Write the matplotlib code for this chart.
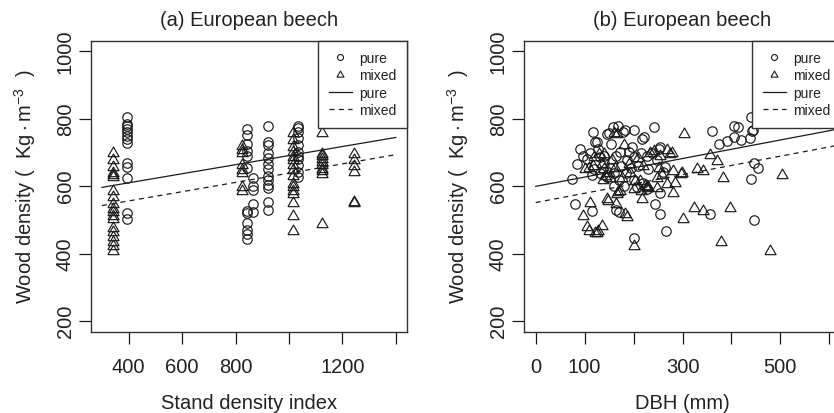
import matplotlib
matplotlib.use("Agg")
import matplotlib.pyplot as plt
from matplotlib.lines import Line2D
from matplotlib.path import Path

plt.rcParams.update({"font.family": "Liberation Sans", "font.size": 14.5,
                     "mathtext.fontset": "custom", "mathtext.rm": "Liberation Sans",
                     "mathtext.it": "Liberation Sans:italic"})

# ---- panel (a): stand density index ----
sdi_pure_x = [392] * 13 + [842] * 12 + [866] * 5 + [923] * 13 + [1035] * 11
sdi_pure_y = [806, 785, 778, 770, 760, 750, 740, 730, 670, 658, 625, 520, 502,
              770, 752, 725, 705, 690, 655, 528, 522, 490, 472, 458, 445,
              625, 600, 590, 548, 525,
              780, 732, 722, 700, 685, 665, 650, 630, 618, 605, 595, 555, 530,
              780, 772, 760, 742, 722, 702, 690, 680, 662, 642, 628]
sdi_mixed_x = [342] * 19 + [823] * 8 + [1017] * 16 + [1123] * 10 + [1245] * 6
sdi_mixed_y = [702, 680, 660, 642, 636, 630, 590, 572, 552, 535, 528, 515, 505, 480, 468, 452, 438, 425, 410,
               722, 712, 702, 665, 652, 642, 600, 590,
               760, 740, 720, 705, 690, 680, 665, 650, 635, 610, 600, 590, 580, 555, 515, 472,
               762, 700, 692, 685, 675, 665, 655, 648, 640, 490,
               698, 680, 662, 645, 558, 555]
sdi_line_x = [300, 1400]
sdi_pure_line = [597, 745]
sdi_mixed_line = [543, 694]

# ---- panel (b): DBH ----
dbh_pure = [(75, 622), (84, 667), (80, 549), (96, 691), (117, 761), (115, 633), (114, 527), (125, 731),
            (146, 756), (153, 727), (157, 777), (169, 778), (179, 762), (200, 768), (221, 746), (242, 775),
            (243, 547), (254, 519), (267, 469), (201, 446), (170, 525), (190, 702), (200, 687), (227, 691),
            (251, 712), (265, 658), (361, 763), (374, 725), (391, 734), (405, 746), (406, 778), (413, 776),
            (420, 736), (438, 743), (440, 806), (445, 766), (446, 668), (454, 655), (440, 621), (356, 519),
            (446, 499), (121, 732), (91, 712), (149, 757), (183, 766), (217, 741), (132, 687), (172, 702),
            (186, 677), (196, 717), (254, 717), (248, 677), (261, 643), (207, 598), (227, 593), (254, 579),
            (165, 530), (139, 668), (152, 654), (159, 639), (132, 639), (145, 629), (110, 700), (128, 710),
            (140, 690), (165, 690), (175, 660), (185, 640), (195, 655), (210, 660), (215, 700), (230, 650),
            (238, 700), (105, 680), (120, 650), (170, 620), (180, 600), (160, 600), (200, 620), (220, 610),
            (442, 763)]
dbh_mixed = [(108, 658), (111, 555), (97, 515), (109, 471), (128, 471), (135, 486), (125, 466), (147, 560),
             (159, 761), (137, 623), (166, 579), (172, 589), (186, 512), (200, 427), (217, 564), (200, 594),
             (213, 619), (227, 599), (241, 707), (247, 599), (268, 712), (278, 702), (281, 648), (285, 614),
             (281, 584), (298, 643), (303, 758), (301, 507), (324, 540), (329, 653), (342, 648), (342, 530),
             (356, 697), (370, 677), (383, 628), (397, 540), (378, 437), (479, 412), (503, 636), (258, 638),
             (251, 658), (167, 757), (181, 727), (139, 698), (118, 663), (101, 654), (139, 654), (152, 629),
             (176, 629), (193, 643), (203, 619), (223, 604), (220, 663), (210, 688), (234, 702), (254, 693),
             (275, 698), (247, 629), (268, 609), (169, 585), (145, 564), (165, 550), (182, 520), (104, 481),
             (121, 466), (135, 668), (149, 644), (162, 658), (142, 634), (130, 700), (155, 680), (120, 690),
             (190, 670), (230, 600), (215, 590), (296, 640)]
dbh_line_x = [0, 640]
dbh_pure_line = [600, 776]
dbh_mixed_line = [552, 728]

INK = "#1a1a1a"
TRI = Path([(-1, -0.75), (1, -0.75), (0, 0.98), (-1, -0.75)])
W, H = 834, 413

fig = plt.figure(figsize=(W / 100, H / 100), dpi=100)
top, bot = 40.7, 332
axa = fig.add_axes([91 / W, (H - bot) / H, 316 / W, (bot - top) / H])
axb = fig.add_axes([524 / W, (H - bot) / H, 317 / W, (bot - top) / H])


def scatter(ax, px, py, mx, my):
    ax.plot(px, py, ls="none", marker="o", ms=6.8, mfc="none", mec=INK, mew=0.85)
    ax.plot(mx, my, ls="none", marker=TRI, ms=8.0, mfc="none", mec=INK, mew=0.85)


def style(ax, title, xlabel, xticks, xlabels, xlim):
    ax.set_xlim(*xlim)
    ax.set_ylim(168, 1032)
    ax.set_xticks(xticks)
    ax.set_xticklabels(xlabels)
    ax.set_yticks([200, 400, 600, 800, 1000])
    ax.tick_params(length=8.6, width=0.9, color=INK, labelcolor="#222")
    ax.tick_params(axis="x", pad=10.0)
    ax.tick_params(axis="y", pad=3.0)
    for lb in ax.get_yticklabels():
        lb.set_rotation(90)
        lb.set_va("center")
    for sp in ax.spines.values():
        sp.set_linewidth(1.0)
        sp.set_color("#333")
    ax.text(0.5, 1.068, title, transform=ax.transAxes, ha="center", va="center", color="#222")
    ax.text(0.5, -0.246, xlabel, transform=ax.transAxes, ha="center", va="center", color="#222")
    ax.text(-66 / 316, 0.5, r"Wood density (  $\mathrm{Kg}\cdot\mathrm{m}^{-3}$  )", transform=ax.transAxes,
            ha="center", va="center", rotation=90, color="#222")
    handles = [Line2D([], [], ls="none", marker="o", ms=6.6, mfc="none", mec=INK, mew=0.8),
               Line2D([], [], ls="none", marker=TRI, ms=7.8, mfc="none", mec=INK, mew=0.8),
               Line2D([], [], color=INK, lw=0.9),
               Line2D([], [], color=INK, lw=0.9, dashes=(4, 3.5))]
    leg = ax.legend(handles, ["pure", "mixed", "pure", "mixed"], loc="upper right", bbox_to_anchor=(1, 1),
                    borderaxespad=0, fancybox=False, edgecolor="#333", framealpha=1, fontsize=10,
                    handlelength=1.65, handleheight=1.27, handletextpad=0.55, labelspacing=0.15,
                    borderpad=0.75, markerscale=0.65)
    leg.get_frame().set_linewidth(1.0)
    for t in leg.get_texts():
        t.set_color("#222")


scatter(axa, sdi_pure_x, sdi_pure_y, sdi_mixed_x, sdi_mixed_y)
axa.plot(sdi_line_x, sdi_pure_line, color=INK, lw=0.9)
axa.plot(sdi_line_x, sdi_mixed_line, color=INK, lw=0.9, dashes=(4, 3.5))
style(axa, "(a) European beech", "Stand density index", [400, 600, 800, 1000, 1200, 1400],
      ["400", "600", "800", "", "1200", ""], (259, 1442))

bx = [p[0] for p in dbh_pure]
by = [p[1] for p in dbh_pure]
mx = [p[0] for p in dbh_mixed]
my = [p[1] for p in dbh_mixed]
scatter(axb, bx, by, mx, my)
axb.plot(dbh_line_x, dbh_pure_line, color=INK, lw=0.9)
axb.plot(dbh_line_x, dbh_mixed_line, color=INK, lw=0.9, dashes=(4, 3.5))
style(axb, "(b) European beech", "DBH (mm)", [0, 100, 200, 300, 400, 500, 600],
      ["0", "100", "", "300", "", "500", ""], (-24, 624))

fig.savefig("out.png", dpi=100, facecolor="white")
